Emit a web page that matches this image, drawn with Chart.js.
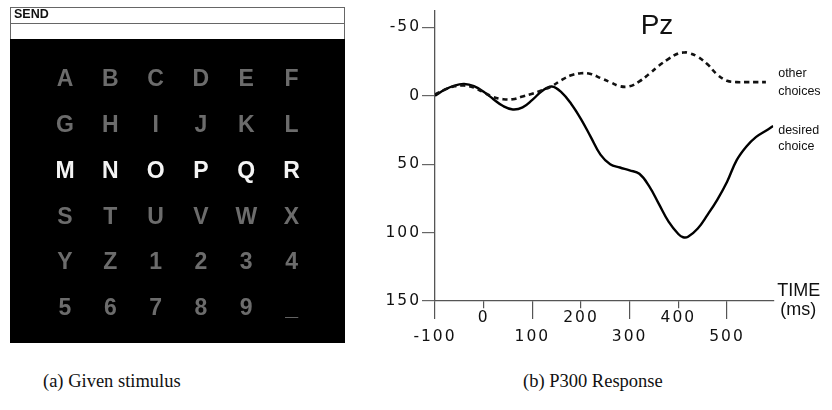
<!DOCTYPE html>
<html>
<head>
<meta charset="utf-8">
<script src="https://cdn.jsdelivr.net/npm/chart.js@4/dist/chart.umd.min.js"></script>
<style>
  html, body { margin: 0; padding: 0; background: #fff; width: 832px; height: 410px; overflow: hidden; }
  canvas { position: absolute; top: 0; }
  #speller { left: 0; }
  #erp { left: 360px; }
  .cap { position: absolute; top: 370px; line-height: 22px; font-family: "Liberation Serif", "DejaVu Serif", serif; font-size: 18.5px; color: #111; white-space: nowrap; }
</style>
</head>
<body>
<canvas id="speller" width="360" height="360"></canvas>
<canvas id="erp" width="472" height="360"></canvas>
<div class="cap" style="left:43px">(a) Given stimulus</div>
<div class="cap" style="left:523px">(b) P300 Response</div>
<script>
// ---- speller matrix ----
const symbolRows = ['ABCDEF', 'GHIJKL', 'MNOPQR', 'STUVWX', 'YZ1234', '56789_'];
const flashedRow = 2;
const headerText = 'SEND';

// ---- averaged ERP at Pz (µV, negative up) ----
const timeMs = [-100, -80, -60, -40, -20, 0, 20, 40, 60, 80, 100, 120, 140, 160, 180, 200, 220, 240, 260, 280, 300, 320, 340, 360, 380, 400, 410, 420, 440, 460, 480, 500, 520, 540, 560, 580, 595];
const desiredChoice = [0, -4.5, -7.5, -8.6, -7, -3, 2.5, 7.5, 10, 8.5, 3, -3.5, -6.8, -2.5, 6, 17, 30, 43, 50, 52.4, 54.5, 57, 66, 79, 92, 101, 103.4, 103, 97, 87, 76, 63, 47, 37, 30, 25.5, 22];
const otherChoices = [-1, -4.5, -7, -7.5, -6, -2.5, 1, 2.5, 2.5, 0.5, -1.5, -4, -7, -11.5, -15, -16.5, -16, -13, -10, -7, -7, -10.5, -16, -22, -27, -31, -31.6, -31.5, -28.5, -23, -15.5, -11, -10, -10, -10, -10, null];
const yTickValues = [-50, 0, 50, 100, 150];
const xTickValues = [-100, 0, 100, 200, 300, 400, 500];

const spellerPoints = [];
symbolRows.forEach((row, r) => {
  [...row].forEach((ch, c) => spellerPoints.push({ x: c, y: r, symbol: ch, lit: r === flashedRow }));
});

const spellerPlugin = {
  id: 'spellerPlugin',
  beforeDraw(chart) {
    const { ctx, chartArea: a } = chart;
    ctx.save();
    // text box above the matrix
    ctx.fillStyle = '#fff';
    ctx.fillRect(a.left, a.top - 32, a.right - a.left, 32);
    ctx.strokeStyle = '#666';
    ctx.lineWidth = 1;
    ctx.strokeRect(a.left + 0.5, a.top - 31.5, a.right - a.left - 1, 32);
    ctx.beginPath();
    ctx.moveTo(a.left, a.top - 15.5);
    ctx.lineTo(a.right, a.top - 15.5);
    ctx.stroke();
    ctx.fillStyle = '#111';
    ctx.font = 'bold 12.5px "Liberation Sans", Arial, sans-serif';
    ctx.textBaseline = 'middle';
    ctx.fillText(headerText, a.left + 4, a.top - 24);
    // matrix background
    ctx.fillStyle = '#000';
    ctx.fillRect(a.left, a.top, a.right - a.left, a.bottom - a.top);
    ctx.restore();
  },
  afterDatasetsDraw(chart) {
    const { ctx } = chart;
    const meta = chart.getDatasetMeta(0);
    ctx.save();
    ctx.font = 'bold 23px "Liberation Sans", Arial, sans-serif';
    ctx.textAlign = 'center';
    ctx.textBaseline = 'alphabetic';
    meta.data.forEach((el, i) => {
      const p = spellerPoints[i];
      ctx.fillStyle = p.lit ? '#f4f4f4' : '#6c6c6c';
      ctx.fillText(p.symbol, el.x, el.y + 8.3);
    });
    ctx.restore();
  }
};

new Chart(document.getElementById('speller'), {
  type: 'scatter',
  data: { datasets: [{ data: spellerPoints, pointRadius: 0, pointHoverRadius: 0 }] },
  options: {
    responsive: false,
    animation: false,
    events: [],
    layout: { padding: { left: 10, top: 39, right: 15, bottom: 17 } },
    plugins: { legend: { display: false }, tooltip: { enabled: false } },
    scales: {
      x: { type: 'linear', display: false, min: -1.214, max: 6.18 },
      y: { type: 'linear', display: false, reverse: true, min: -0.85, max: 5.79 }
    }
  },
  plugins: [spellerPlugin]
});

// ---- ERP plot ----
const tickFont = { family: '"DejaVu Sans", sans-serif', size: 15.5 };

// wide lettering for the axis numbers
const spacingPlugin = {
  id: 'spacingPlugin',
  beforeDraw(chart) { chart.ctx.letterSpacing = '2px'; },
  beforeDatasetsDraw(chart) { chart.ctx.letterSpacing = '0px'; }
};

const labelPlugin = {
  id: 'labelPlugin',
  afterDatasetsDraw(chart) {
    const { ctx, chartArea: a, scales: { y } } = chart;
    ctx.save();
    ctx.letterSpacing = '0px';
    ctx.fillStyle = '#111';
    ctx.textBaseline = 'middle';
    ctx.textAlign = 'center';
    ctx.font = '28px "Liberation Sans", Arial, sans-serif';
    ctx.fillText('Pz', 297, 26);

    ctx.textAlign = 'left';
    ctx.font = '12.5px "Liberation Sans", Arial, sans-serif';
    const lastOther = otherChoices.filter(v => v !== null).slice(-1)[0];
    const oy = y.getPixelForValue(lastOther);
    ctx.fillText('other', a.right + 5, oy - 9);
    ctx.fillText('choices', a.right + 5, oy + 9);
    const dy = y.getPixelForValue(desiredChoice[desiredChoice.length - 1]);
    ctx.fillText('desired', a.right + 5, dy + 5);
    ctx.fillText('choice', a.right + 5, dy + 21);

    ctx.font = '18px "Liberation Sans", Arial, sans-serif';
    ctx.fillText('TIME', a.right + 4, a.bottom - 10);
    ctx.fillText('(ms)', a.right + 7, a.bottom + 9);
    ctx.restore();
  }
};

new Chart(document.getElementById('erp'), {
  type: 'line',
  data: {
    labels: timeMs,
    datasets: [
      {
        label: 'other choices',
        data: timeMs.map((t, i) => ({ x: t, y: otherChoices[i] })),
        borderColor: '#111',
        borderWidth: 2.6,
        borderDash: [5, 4],
        pointRadius: 0,
        tension: 0.4,
        fill: false
      },
      {
        label: 'desired choice',
        data: timeMs.map((t, i) => ({ x: t, y: desiredChoice[i] })),
        borderColor: '#000',
        borderWidth: 2.4,
        pointRadius: 0,
        tension: 0.4,
        fill: false
      }
    ]
  },
  options: {
    responsive: false,
    animation: false,
    events: [],
    layout: { padding: { left: 0, top: 5, right: 58.8, bottom: 0 } },
    plugins: { legend: { display: false }, tooltip: { enabled: false }, title: { display: false } },
    scales: {
      x: {
        type: 'linear',
        min: -100,
        max: 595,
        afterBuildTicks: s => { s.ticks = xTickValues.map(v => ({ value: v })); },
        afterFit: s => { s.height = 59; },
        border: { display: true, color: '#555', width: 1.3 },
        grid: {
          drawOnChartArea: false,
          drawTicks: true,
          tickLength: 18,
          color: '#555',
          lineWidth: 1.2,
          tickBorderDash: ctx => (ctx.tick && ctx.tick.value % 200 === 0) ? [7, 100] : []
        },
        ticks: {
          color: '#111',
          font: tickFont,
          padding: -10,
          maxRotation: 0,
          autoSkip: false,
          callback: v => (v % 200 === 0) ? [String(v), ''] : ['', String(v)]
        }
      },
      y: {
        type: 'linear',
        reverse: true,
        min: -62.5,
        max: 150,
        afterBuildTicks: s => { s.ticks = yTickValues.map(v => ({ value: v })); },
        afterFit: s => { s.width = 75; },
        border: { display: true, color: '#555', width: 1.3 },
        grid: { drawOnChartArea: false, drawTicks: true, tickLength: 13, color: '#666', lineWidth: 1.2 },
        ticks: { color: '#111', font: tickFont, padding: 1, callback: v => String(v) }
      }
    }
  },
  plugins: [spacingPlugin, labelPlugin]
});
</script>
</body>
</html>
